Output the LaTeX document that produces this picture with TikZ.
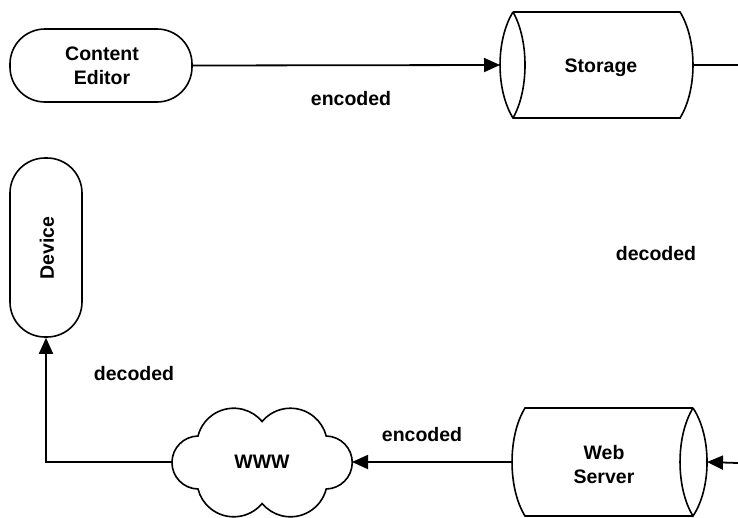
\documentclass[tikz,border=0pt]{standalone}
\usepackage{fontspec}
\setmainfont{Liberation Sans}
\usetikzlibrary{arrows.meta}
\begin{document}
\begin{tikzpicture}[x=1pt,y=-1pt,
  lbl/.style={font=\bfseries\fontsize{19.5}{24}\selectfont},
  conn/.style={line width=1.8pt},
  arr/.style={conn,-{Triangle[length=16pt,width=14pt]}},
  outline/.style={line width=1.6pt},
  stadium/.style={draw, outline, rectangle, rounded corners=35pt, inner sep=0pt},
  anchorbox/.style={inner sep=0pt, outer sep=0pt}
]
\useasboundingbox (0,0) rectangle (738,517);

% Content Editor
\node[stadium, minimum width=182pt, minimum height=73pt] (editor) at (101,65.5) {};
\node[lbl, align=center] (editortxt) at (102,66) {Content\\Editor};

% Storage
\node[anchorbox, minimum width=193pt, minimum height=106pt] (storage) at (596.5,65) {};
\draw[outline] (513,12) -- (680,12) .. controls (697.3,40) and (697.3,90) .. (680,118)
  -- (513,118) .. controls (495.7,90) and (495.7,40) .. (513,12);
\draw[outline] (513,12) .. controls (529,40) and (529,90) .. (513,118);
\node[lbl, anchor=base] (storagetxt) at (601,72) {Storage};

% Device
\node[stadium, minimum width=72pt, minimum height=179pt] (device) at (46,247.5) {};
\node[lbl, rotate=90] (devicetxt) at (47,248) {Device};

% Web Server
\node[anchorbox, minimum width=195pt, minimum height=108pt] (webserver) at (609.5,462) {};
\draw[outline] (693,408) -- (525,408) .. controls (507.7,436) and (507.7,488) .. (525,516) -- (693,516);
\draw[outline] (693,408) .. controls (711.7,436) and (711.7,488) .. (693,516)
  .. controls (675.7,488) and (675.7,436) .. (693,408);
\node[lbl, align=center] (webtxt) at (604,465) {Web\\Server};

% WWW cloud
\node[anchorbox, minimum width=180pt, minimum height=106pt, lbl] (www) at (262,462) {WWW};
\draw[outline] (198,489)
  arc[start angle=91, end angle=269, radius=26.5]
  arc[start angle=194.3, end angle=320.2, radius=36.9]
  arc[start angle=219.8, end angle=345.7, radius=36.9]
  arc[start angle=271, end angle=449, radius=26.5]
  arc[start angle=14.3, end angle=140.2, radius=36.9]
  arc[start angle=39.8, end angle=165.7, radius=36.9]
  -- cycle;

% connectors
\coordinate (outR) at (738,65);
\coordinate (inR) at (738,463);
\draw[arr] (editor.east) -- (storage.west);
\draw[conn] (storage.east) -- (outR);
\draw[arr] (inR) -- (webserver.east);
\draw[arr] (webserver.west) -- (www.east);
\draw[arr] (www.west) -| (device.south);

% labels
\node[lbl, anchor=base] (enc1) at (351,105) {encoded};
\node[lbl, anchor=base] (dec1) at (656,260) {decoded};
\node[lbl, anchor=base] (dec2) at (134,380) {decoded};
\node[lbl, anchor=base] (enc2) at (422,441) {encoded};
\end{tikzpicture}
\end{document}
